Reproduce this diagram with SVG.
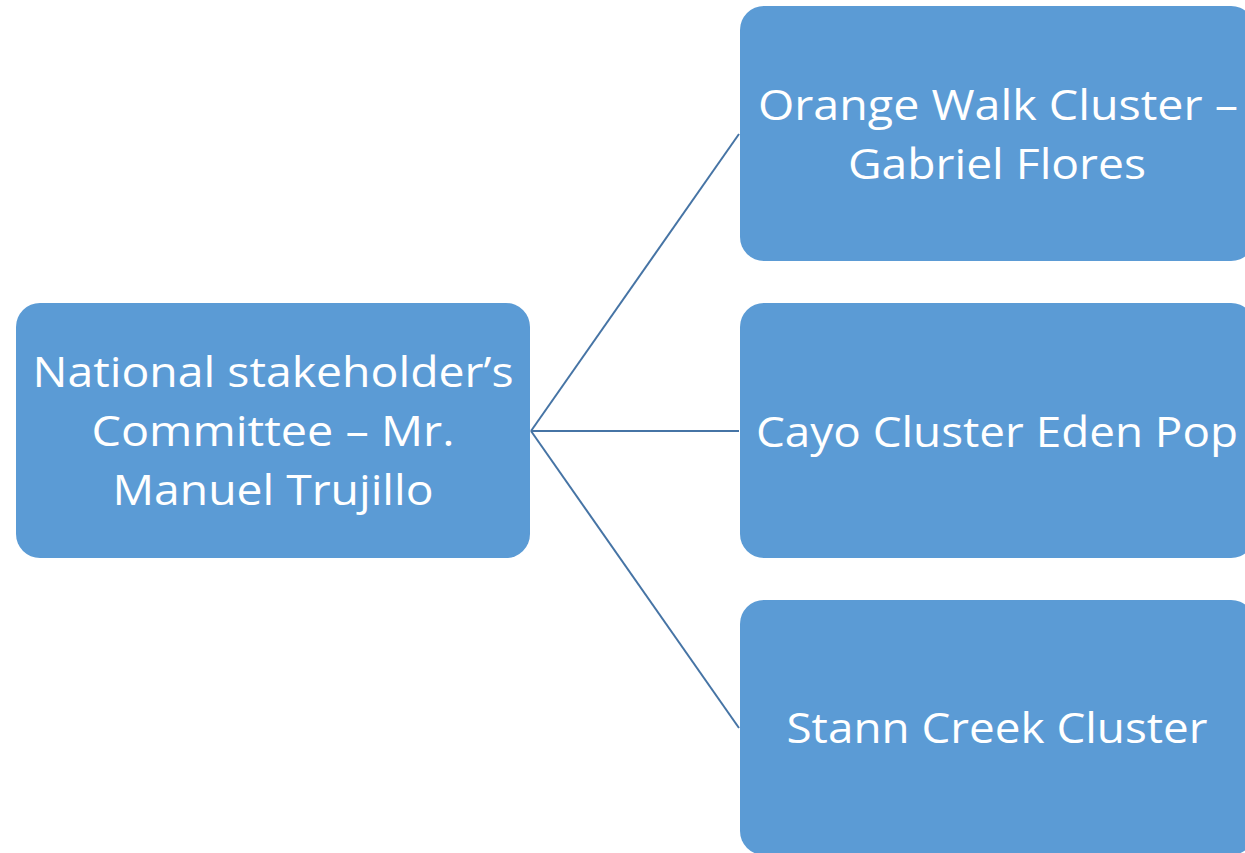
<svg xmlns="http://www.w3.org/2000/svg" width="1245" height="853" viewBox="0 0 1245 853">
  <style>
    .box { fill: #5B9BD5; }
    .lbl { fill: #FFFFFF; font-family: "Open Sans", "Noto Sans", "Liberation Sans", sans-serif; font-size: 42px; text-anchor: middle; font-variant-ligatures: none; }
    .link { stroke: #4674A5; stroke-width: 2; fill: none; }
  </style>
  <rect width="1245" height="853" fill="#FFFFFF"/>

  <!-- connectors from the committee to each cluster -->
  <g id="connectors">
    <line class="link" x1="531" y1="431" x2="739" y2="134"/>
    <line class="link" x1="531" y1="431" x2="739" y2="431"/>
    <line class="link" x1="531" y1="431" x2="739" y2="728"/>
  </g>

  <g id="national-committee">
    <rect class="box" x="16" y="303" width="514" height="255" rx="24"/>
    <text class="lbl" x="273" y="387" textLength="481" lengthAdjust="spacingAndGlyphs">National stakeholder’s</text>
    <text class="lbl" x="273" y="446" textLength="363" lengthAdjust="spacingAndGlyphs">Committee – Mr.</text>
    <text class="lbl" x="273" y="505" textLength="321" lengthAdjust="spacingAndGlyphs">Manuel Trujillo</text>
  </g>

  <g id="orange-walk">
    <rect class="box" x="740" y="6" width="515" height="255" rx="24"/>
    <text class="lbl" x="998" y="120" textLength="480" lengthAdjust="spacingAndGlyphs">Orange Walk Cluster –</text>
    <text class="lbl" x="997" y="179" textLength="298" lengthAdjust="spacingAndGlyphs">Gabriel Flores</text>
  </g>

  <g id="cayo">
    <rect class="box" x="740" y="303" width="515" height="255" rx="24"/>
    <text class="lbl" x="997" y="447" textLength="482" lengthAdjust="spacingAndGlyphs">Cayo Cluster Eden Pop</text>
  </g>

  <g id="stann-creek">
    <rect class="box" x="740" y="600" width="515" height="255" rx="24"/>
    <text class="lbl" x="997" y="743" textLength="421" lengthAdjust="spacingAndGlyphs">Stann Creek Cluster</text>
  </g>
</svg>
